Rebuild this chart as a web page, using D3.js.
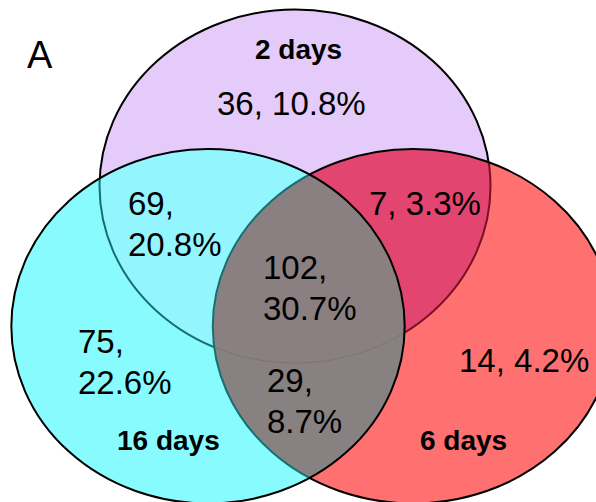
<!DOCTYPE html>
<html>
<head>
<meta charset="utf-8">
<script src="https://cdn.jsdelivr.net/npm/d3@7"></script>
<style>
  html, body { margin: 0; padding: 0; background: #fff; }
  svg { display: block; }
  text { font-family: "Liberation Sans", Arial, sans-serif; fill: #000; }
</style>
</head>
<body>
<div id="chart"></div>
<script>
// Sets compared in the diagram
const setNames = ["2 days", "16 days", "6 days"];
const setKeys = ["P", "C", "R"];
const setColors = ["#e5cbf9", "#88fbff", "#ff7070"];

// Regions: which sets each belongs to, gene count and share of total
const regionSets = [["P"], ["P", "C"], ["P", "R"], ["P", "C", "R"], ["C"], ["C", "R"], ["R"]];
const regionCounts = [36, 69, 7, 102, 75, 29, 14];
const regionPercents = ["10.8%", "20.8%", "3.3%", "30.7%", "22.6%", "8.7%", "4.2%"];
const regionSplitLine = [false, true, false, true, true, true, false];

const panelLabel = "A";

const W = 596, H = 502;
const svg = d3.select("#chart").append("svg").attr("width", W).attr("height", H);
const defs = svg.append("defs");

// Ellipse layout in a unit frame, mapped to pixels via linear scales
const x = d3.scaleLinear().domain([0, 1]).range([0, W]);
const y = d3.scaleLinear().domain([0, 1]).range([0, H]);
const geom = {
  P: { cx: 0.495, cy: 0.371, rx: 0.328, ry: 0.352 },
  C: { cx: 0.349, cy: 0.650, rx: 0.330, ry: 0.353 },
  R: { cx: 0.693, cy: 0.650, rx: 0.336, ry: 0.353 }
};
function ellipse(sel, k) {
  const g = geom[k];
  return sel.append("ellipse")
    .attr("cx", x(g.cx)).attr("cy", y(g.cy))
    .attr("rx", x(g.rx)).attr("ry", y(g.ry));
}

// clip paths for each set
setKeys.forEach(k => {
  ellipse(defs.append("clipPath").attr("id", "clip-" + k), k);
});
// masks removing one or more sets
function makeMask(id, keys) {
  const m = defs.append("mask").attr("id", id)
    .attr("maskUnits", "userSpaceOnUse").attr("x", 0).attr("y", 0)
    .attr("width", W).attr("height", H);
  m.append("rect").attr("width", W).attr("height", H).attr("fill", "#fff");
  keys.forEach(k => ellipse(m, k).attr("fill", "#000"));
}
makeMask("not-R", ["R"]);
makeMask("not-C", ["C"]);
makeMask("not-RC", ["R", "C"]);

const color = d3.scaleOrdinal().domain(setKeys).range(setColors);

// --- fills ---
const fills = svg.append("g");
ellipse(fills, "P").attr("fill", color("P"));
ellipse(fills, "R").attr("fill", color("R"));
ellipse(fills.append("g").attr("clip-path", "url(#clip-R)"), "P").attr("fill", "#e2456f");
ellipse(fills, "C").attr("fill", color("C"));
const inC = fills.append("g").attr("clip-path", "url(#clip-C)");
ellipse(inC, "P").attr("fill", "#93f6ff");
ellipse(inC, "R").attr("fill", "#888181");
ellipse(inC.append("g").attr("clip-path", "url(#clip-R)"), "P").attr("fill", "#8a8082");

// --- outlines ---
const lines = svg.append("g").attr("fill", "none").attr("stroke-width", 2);
ellipse(lines.append("g").attr("mask", "url(#not-RC)"), "P").attr("stroke", "#000");
ellipse(lines.append("g").attr("clip-path", "url(#clip-R)").append("g").attr("mask", "url(#not-C)"), "P")
  .attr("stroke", "#7a1025");
ellipse(lines.append("g").attr("clip-path", "url(#clip-C)").append("g").attr("mask", "url(#not-R)"), "P")
  .attr("stroke", "#16706f");
ellipse(lines.append("g").attr("clip-path", "url(#clip-C)").append("g").attr("clip-path", "url(#clip-R)"), "P")
  .attr("stroke", "#6a5658").attr("stroke-width", 1).attr("stroke-dasharray", "1,2");
ellipse(lines.append("g").attr("mask", "url(#not-C)"), "R").attr("stroke", "#000");
ellipse(lines.append("g").attr("clip-path", "url(#clip-C)"), "R").attr("stroke", "#16706f");
ellipse(lines, "C").attr("stroke", "#000");

// --- text ---
const labels = svg.append("g");
labels.append("text").attr("x", 27).attr("y", 68).attr("font-size", 38).text(panelLabel);

const setLabelPos = [[255, 59], [117, 450], [420, 450]];
setNames.forEach((n, i) => {
  labels.append("text").attr("x", setLabelPos[i][0]).attr("y", setLabelPos[i][1])
    .attr("font-size", 28).attr("font-weight", "bold").text(n);
});

const regionPos = [[217, 115], [128, 215], [369, 215], [263, 279], [78, 353], [267, 392], [459, 372]];
regionCounts.forEach((c, i) => {
  const t = labels.append("text").attr("x", regionPos[i][0]).attr("y", regionPos[i][1])
    .attr("font-size", 33);
  if (regionSplitLine[i]) {
    t.append("tspan").attr("x", regionPos[i][0]).text(c + ",");
    t.append("tspan").attr("x", regionPos[i][0]).attr("dy", 41).text(regionPercents[i]);
  } else {
    t.text(c + ", " + regionPercents[i]);
  }
});
</script>
</body>
</html>
